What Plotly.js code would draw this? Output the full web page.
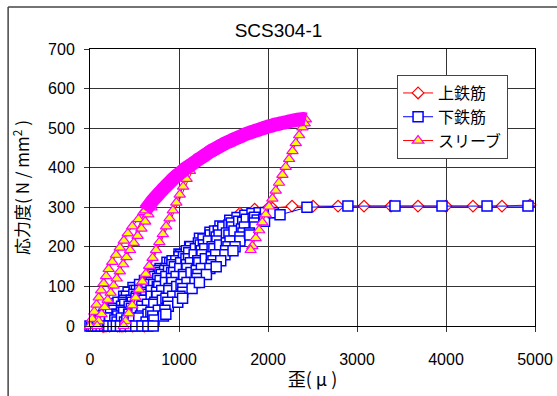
<!DOCTYPE html>
<html>
<head>
<meta charset="utf-8">
<script src="https://cdn.plot.ly/plotly-3.0.1.min.js"></script>
<style>html,body{margin:0;padding:0;background:#fff;}#chart{width:557px;height:396px;}</style>
</head>
<body>
<div id="chart"></div>
<script>
// ---- Data ----
const chartTitle = 'SCS304-1';
const seriesNames = ['上鉄筋', '下鉄筋', 'スリーブ'];
const xTickVals = [0, 1000, 2000, 3000, 4000, 5000];
const yTickVals = [0, 100, 200, 300, 400, 500, 600, 700];

// 上鉄筋 (upper rebar) : strain (μ) / stress (N/mm2)
const upperStrain = [
  150,210,280,345,415, 360,290,210,140,
  240,340,450,560, 470,360,255,150,
  270,395,520,615,700, 610,490,370,250,160,
  310,460,610,760,850, 740,600,460,320,180,
  345,510,675,840,1000, 880,720,560,400,220,
  400,580,760,940,1100,1200, 1080,910,740,570,400,310,
  480,650,820,990,1160,1320, 1200,1030,860,690,520,330,
  500,680,860,1040,1220,1440, 1310,1140,970,800,630,460,350,
  520,710,900,1090,1280,1440,1560, 1430,1250,1070,890,710,530,370,
  560,760,960,1160,1360,1560,1685, 1560,1380,1200,1020,840,660,480,400,
  600,800,1000,1200,1400,1600,1850, 1700,1500,1300,1100,900,700,480,
  700,920,1140,1360,1580,1800,2000, 1850,1640,1430,1220,1010,800,610,
  780,980,1180,1380,1580,1780,1960,2050,2270,2506,2787,3079,3382,3685,4000,4303,4629,4944,5060
];
const upperStress = [
  0,15,30,45,60, 48,33,15,0,
  22,44,68,92, 72,47,24,0,
  26,53,81,102,120, 100,73,49,22,0,
  31,63,94,126,145, 121,91,60,30,0,
  34,68,101,135,168, 142,108,73,39,0,
  35,70,105,140,170,190, 164,128,92,56,19,0,
  36,72,108,145,181,215, 189,152,115,78,41,0,
  36,74,113,151,189,236, 208,171,134,97,61,24,0,
  36,77,117,158,198,232,258, 230,190,151,112,73,35,0,
  41,85,128,171,215,258,285, 257,217,177,137,97,57,18,0,
  41,81,122,163,203,244,295, 263,220,177,134,91,47,0,
  43,86,129,173,216,259,298, 266,221,176,131,86,41,0,
  36,77,118,160,201,243,285,298,303,303,303,303,303,303,303,303,303,306,306
];

// 下鉄筋 (lower rebar)
const lowerStrain = [
  0,99,197,281, 157,66,20,
  139,259,378,483, 428,314,200,86,40,
  114,261,409,557,680, 612,497,383,268,154,85,
  230,375,521,666,787,865, 769,631,493,355,217,125,
  221,390,558,726,895,1000, 922,785,624,463,303,165,
  355,521,688,854,1020,1120, 1000,839,678,517,356,195,
  312,475,638,801,964,1127,1230, 1082,921,761,600,440,279,210,
  378,546,714,882,1050,1218,1348, 1270,1109,948,787,626,465,304,258,
  353,519,686,852,1018,1184,1351,1460, 1400,1239,1078,917,756,595,434,296,
  439,606,773,940,1107,1274,1441,1570, 1492,1331,1170,1009,848,687,526,388,342,
  414,581,748,916,1083,1250,1418,1561,1652, 1588,1450,1289,1128,967,806,645,484,392,
  584,753,921,1090,1258,1426,1595,1740, 1671,1533,1372,1211,1050,889,728,567,452,
  548,717,886,1054,1223,1392,1561,1715,1820, 1756,1618,1457,1296,1135,974,813,652,514,
  684,853,1023,1193,1363,1532,1702,1833,1900, 1849,1734,1573,1412,1251,1090,929,768,630,584,
  705,874,1043,1212,1381,1550,1719,1878,1970, 1846,1685,1524,1363,1202,1041,880,719,650,
  842,1011,1179,1347,1516,1684,1853,2030, 1952,1791,1630,1469,1308,1147,986,825,710,
  852,1040,1229,1418,1607,1796,1961,2060,2135,2438,2898,3427,3955,4461,4921,5060
];
const lowerStress = [
  0,20,40,57, 30,10,0,
  25,50,75,97, 85,60,35,10,0,
  15,45,75,105,130, 115,90,65,40,15,0,
  30,60,90,120,145,161, 140,110,80,50,20,0,
  20,55,90,125,160,182, 165,135,100,65,30,0,
  40,75,110,145,180,201, 175,140,105,70,35,0,
  25,60,95,130,165,200,222, 190,155,120,85,50,15,0,
  35,70,105,140,175,210,237, 220,185,150,115,80,45,10,0,
  20,55,90,125,160,195,230,253, 240,205,170,135,100,65,30,0,
  30,65,100,135,170,205,240,267, 250,215,180,145,110,75,40,10,0,
  15,50,85,120,155,190,225,255,274, 260,230,195,160,125,90,55,20,0,
  40,75,110,145,180,215,250,280, 265,235,200,165,130,95,60,25,0,
  20,55,90,125,160,195,230,262,284, 270,240,205,170,135,100,65,30,0,
  35,70,105,140,175,210,245,272,286, 275,250,215,180,145,110,75,40,10,0,
  25,60,95,130,165,200,235,268,287, 260,225,190,155,120,85,50,15,0,
  40,75,110,145,180,215,250,287, 270,235,200,165,130,95,60,25,0,
  30,70,110,150,190,230,265,286,281,300,303,303,303,303,303,303
];

// スリーブ (sleeve): branches
const sleeveAStrain = [0,24,48,73,98,125,153,181,210,250,292,335,380,425,475,545,600,650];
const sleeveAStress = [0,18,36,54,72,90,108,126,144,162,180,198,216,234,252,270,288,304];
const sleeveBStrain = [690,655,620,578,535,492,450,410,372,335,300,265,232,198,164,130,98,80];
const sleeveBStress = [300,282,264,246,228,210,192,174,156,138,120,102,84,66,48,30,12,0];
const sleeveEnv1Strain = [620,660,700,740,780,820,860,900,940,980,1020,1060,1100,1140,1165];
const sleeveEnv1Stress = [292,304,316,326,336,346,355,364,373,381,388,396,402,408,412];
const sleeveCStrain = [1122,1085,1046,1008,970,931,894,855,818,779,742,703,665,627,588,551,512,475,436,399,378];
const sleeveCStress = [392,372,352,332,312,292,272,252,232,212,192,172,152,132,112,92,72,52,32,12,0];
const sleeveEnv2Strain = [1200,1240,1280,1320,1360,1400,1440,1480,1520,1560,1600,1640,1680,1720,1760,1800,1840,1880,1920,1960,2000,2040,2080,2120,2160,2200,2240,2280,2320,2360,2400,2425];
const sleeveEnv2Stress = [418,424,430,436,442,447,452,457,462,466,470,474,478,482,486,489,492,495,498,501,504,506,509,511,513,515,517,519,521,522,523,522];
const sleeveDStrain = [2412,2387,2350,2312,2275,2237,2199,2162,2124,2087,2049,2011,1974,1936,1899,1861,1824,1805];
const sleeveDStress = [512,502,482,462,442,422,402,382,362,342,322,302,282,262,242,222,202,192];

// ---- Build traces ----
const sleeveStrain = [].concat(sleeveAStrain, sleeveBStrain, sleeveEnv1Strain, sleeveCStrain, sleeveEnv2Strain, sleeveDStrain);
const sleeveStress = [].concat(sleeveAStress, sleeveBStress, sleeveEnv1Stress, sleeveCStress, sleeveEnv2Stress, sleeveDStress);
const bandStrain = [].concat(sleeveEnv1Strain, sleeveEnv2Strain);
const bandStress = [].concat(sleeveEnv1Stress, sleeveEnv2Stress);

const traces = [
  {
    name: seriesNames[0], x: upperStrain, y: upperStress, type: 'scatter', mode: 'lines+markers',
    line: {color: '#FF0000', width: 1},
    marker: {symbol: 'diamond', size: 9, color: '#FFFFFF', line: {color: '#FF0000', width: 1.2}},
    cliponaxis: false
  },
  {
    name: seriesNames[1], x: lowerStrain, y: lowerStress, type: 'scatter', mode: 'lines+markers',
    line: {color: '#0000FF', width: 1},
    marker: {symbol: 'square', size: 10, color: '#FFFFFF', line: {color: '#0000FF', width: 1.5}},
    cliponaxis: false
  },
  {
    name: seriesNames[2], x: sleeveStrain, y: sleeveStress, type: 'scatter', mode: 'lines+markers',
    line: {color: '#FF0000', width: 1},
    marker: {symbol: 'triangle-up', size: 10, color: '#FFFF00', line: {color: '#FF00FF', width: 1.2}},
    cliponaxis: false
  },
  {
    name: seriesNames[2], x: bandStrain, y: bandStress, type: 'scatter', mode: 'lines',
    line: {color: '#FF00FF', width: 14, shape: 'spline', smoothing: 1}, showlegend: false, hoverinfo: 'skip'
  }
];

const fontLatin = 'Liberation Sans, Arial, sans-serif';
const fontCJK = 'Noto Sans CJK JP, Liberation Sans, sans-serif';

const layout = {
  width: 557, height: 396,
  margin: {l: 90, r: 22, t: 49, b: 70, pad: 0},
  paper_bgcolor: '#FFFFFF', plot_bgcolor: '#FFFFFF',
  showlegend: true,
  title: {text: chartTitle, font: {family: fontLatin, size: 19, color: '#000'}, x: 0.5, xref: 'container', xanchor: 'center', y: 0.924, yref: 'container', yanchor: 'middle'},
  xaxis: {
    range: [0, 5000], tickvals: xTickVals, ticktext: xTickVals.map(String),
    showgrid: true, gridcolor: '#333', gridwidth: 1, zeroline: false,
    showline: true, linecolor: '#000', linewidth: 1, mirror: true,
    ticks: 'outside', ticklen: 5, tickcolor: '#333', ticklabelstandoff: 14,
    tickfont: {family: fontLatin, size: 16, color: '#000'},
    title: {text: '歪( μ )', font: {family: fontCJK, size: 18, color: '#000'}, standoff: 6}
  },
  yaxis: {
    range: [0, 700], tickvals: yTickVals, ticktext: yTickVals.map(String),
    showgrid: true, gridcolor: '#333', gridwidth: 1, zeroline: false,
    showline: true, linecolor: '#000', linewidth: 1, mirror: true,
    ticks: 'outside', ticklen: 5, tickcolor: '#333', ticklabelstandoff: 6,
    tickfont: {family: fontLatin, size: 16, color: '#000'},
    title: {text: '応力度( N / mm<sup>2</sup> )', font: {family: fontCJK, size: 17, color: '#000'}, standoff: 14}
  },
  legend: {
    x: 0.69, y: 0.906, xanchor: 'left', yanchor: 'top',
    bgcolor: '#FFFFFF', bordercolor: '#444', borderwidth: 1,
    font: {family: fontCJK, size: 16, color: '#000'},
    itemwidth: 30, tracegroupgap: 0
  },
  shapes: [
    {type: 'line', xref: 'paper', yref: 'paper', x0: -0.184, x1: 1.06, y0: 1.1516, y1: 1.1516, line: {color: '#444', width: 1.5}},
    {type: 'line', xref: 'paper', yref: 'paper', x0: -0.184, x1: -0.184, y0: 1.1516, y1: -0.3, line: {color: '#444', width: 1.5}}
  ]
};

Plotly.newPlot('chart', traces, layout, {displayModeBar: false, staticPlot: true});
</script>
</body>
</html>
